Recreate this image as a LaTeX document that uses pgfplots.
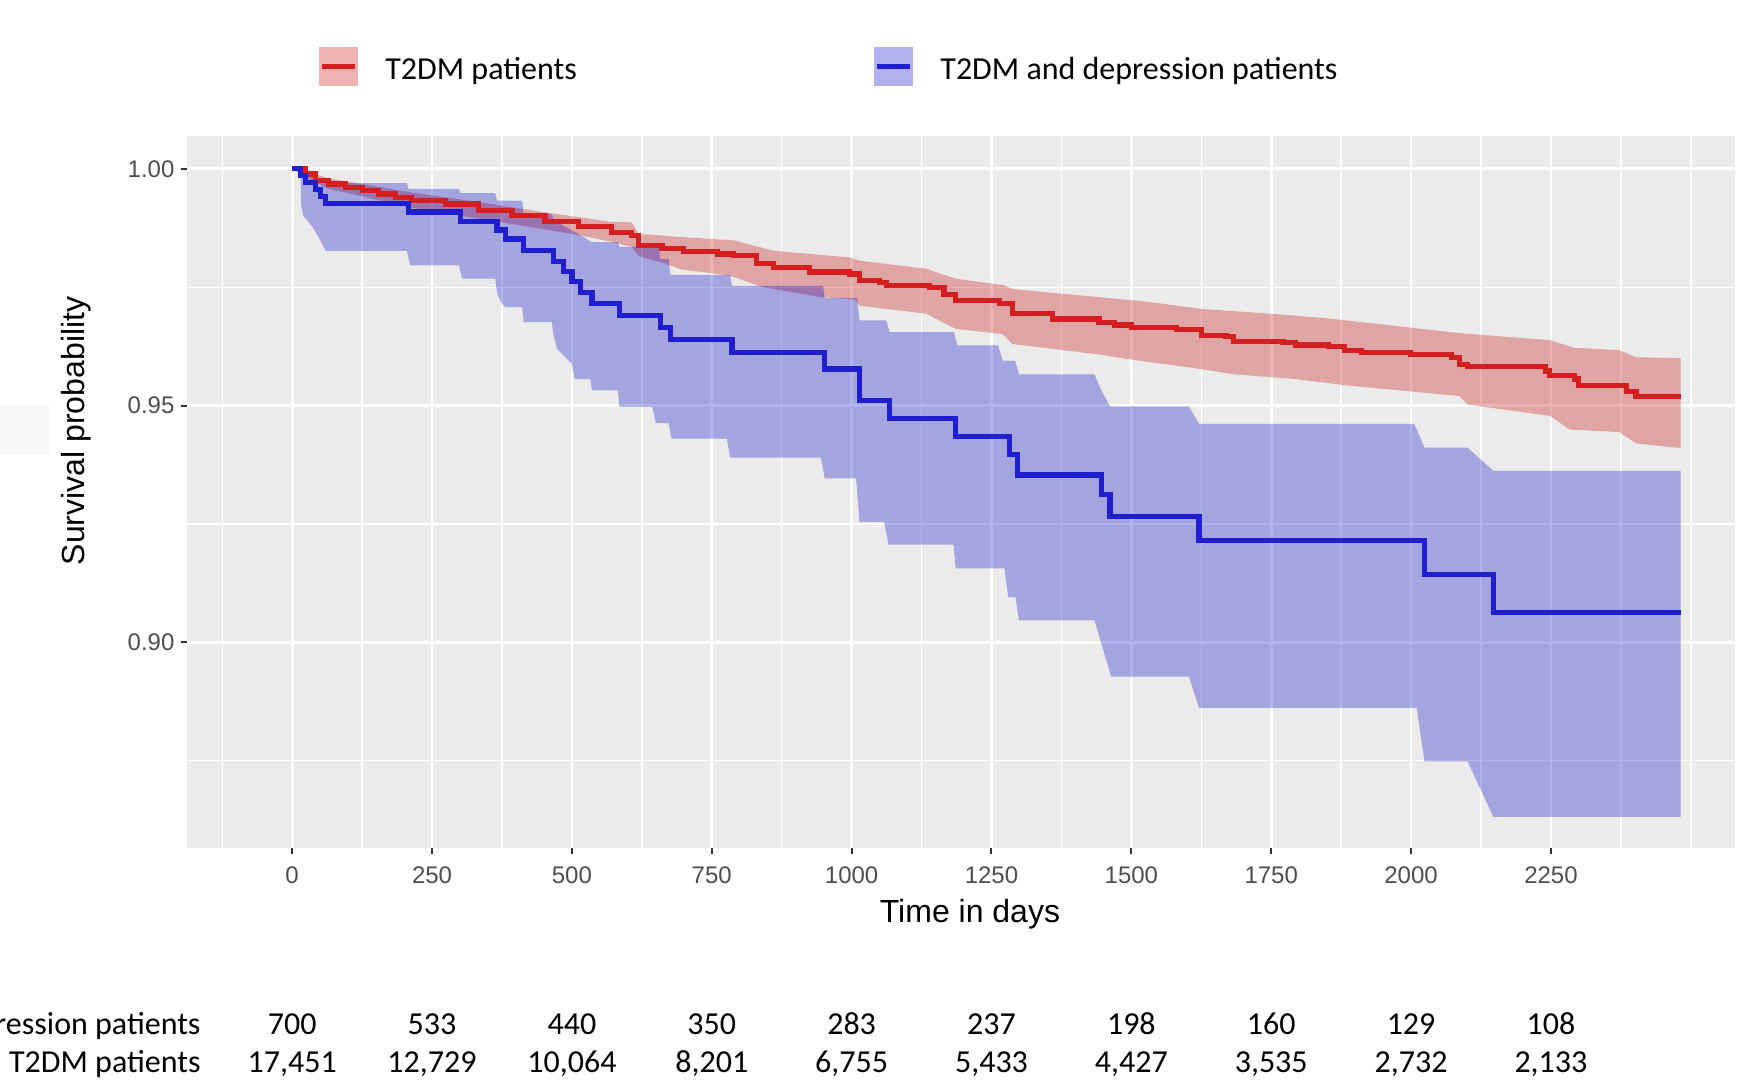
\documentclass[border=0pt]{standalone}
\usepackage{fontspec}
\setmainfont{Liberation Sans}
\newfontfamily\calfont{Carlito}
\usepackage{pgfplots}
\pgfplotsset{compat=1.18}

\definecolor{panelbg}{HTML}{EBEBEB}
\definecolor{kmred}{HTML}{D31F1F}
\definecolor{kmblue}{HTML}{1F1FCF}
\definecolor{bandred}{RGB}{198,0,0}
\definecolor{bandblue}{RGB}{0,0,198}
\definecolor{ticktext}{HTML}{4D4D4D}
\definecolor{tickmark}{HTML}{333333}

\tikzset{risk/.style={anchor=base, inner sep=0pt, font=\calfont\fontsize{16}{19}\selectfont}}

\begin{document}
\begin{tikzpicture}
\clip (-93.5pt,-120pt) rectangle (777.5pt,424pt);
\begin{axis}[
    scale only axis,
    width=774pt, height=356pt,
    at={(0pt,0pt)}, anchor=south west,
    xmin=-188, xmax=2579,
    ymin=0.8565, ymax=1.00695,
    clip=false,
    axis background/.style={fill=panelbg},
    axis line style={draw=none},
    xtick={0,250,...,2250},
    xticklabels={0,250,500,750,1000,1250,1500,1750,2000,2250},
    minor xtick={-125,125,375,625,875,1125,1375,1625,1875,2125,2375,2500},
    ytick={0.90,0.95,1.00},
    yticklabels={0.90,0.95,1.00},
    minor ytick={0.875,0.925,0.975},
    grid=both,
    major grid style={white, line width=1.4pt},
    minor grid style={white, line width=0.7pt},
    tick pos=left,
    tick align=outside,
    major tick length=2.75pt,
    minor tick length=0pt,
    tick style={tickmark, line width=1pt},
    tick label style={font=\fontsize{12}{14}\selectfont, text=ticktext},
    xticklabel style={yshift=-3.3pt},
    xlabel={Time in days},
    ylabel={Survival probability},
    label style={font=\fontsize{16}{19}\selectfont},
    xlabel style={at={(rel axis cs:0.5058,-0.1053)}, anchor=base},
    ylabel style={at={(rel axis cs:-0.0662,0.5857)}, anchor=base},
    legend columns=2,
    legend cell align=left,
    legend style={at={(rel axis cs:0.08527,1.0976)}, anchor=west,
        draw=none, fill=none, inner sep=0pt, outer sep=0pt,
        font=\calfont\fontsize{16}{19}\selectfont,
        nodes={yshift=-1.5pt},
        /tikz/every odd column/.style={column sep=11.7pt},
        /tikz/every even column/.style={column sep=146.6pt}},
]

% faint patch left of the panel
\fill[black!3] (rel axis cs:-0.1208,0.552) rectangle (rel axis cs:-0.0891,0.622);

% confidence band, T2DM patients (upper edge, then lower edge backwards)
\addplot[fill=bandred, fill opacity=0.3, draw=none, forget plot] coordinates {
(0,1.0) (24,0.9995) (65,0.9980) (125,0.9968) (214,0.9950) (333,0.9930) (452,0.9908)
(512,0.9898) (571,0.9888) (607,0.9887) (619,0.9863) (694,0.9856) (789,0.9849) (860,0.9827)
(996,0.9813) (1014,0.9806) (1133,0.9789) (1186,0.9768) (1273,0.9754) (1287,0.9746)
(1442,0.9729) (1531,0.9719) (1625,0.9704) (1749,0.9694) (1852,0.9684) (2086,0.9653)
(2248,0.9638) (2292,0.9622) (2372,0.9617) (2402,0.9602) (2482,0.9600)
(2482,0.9410) (2402,0.9420) (2372,0.9444) (2284,0.9449) (2248,0.9478) (2101,0.9502)
(2086,0.9520) (1881,0.9543) (1793,0.9556) (1683,0.9566) (1625,0.9577) (1500,0.9597)
(1442,0.9608) (1287,0.9630) (1270,0.9651) (1186,0.9662) (1133,0.9694) (1014,0.9711)
(1006,0.9724) (945,0.9729) (842,0.9750) (780,0.9775) (694,0.9788) (664,0.9801) (619,0.9816)
(607,0.9835) (571,0.9846) (512,0.9860) (452,0.9872) (333,0.9895) (214,0.9918) (125,0.9942)
(65,0.9958) (24,0.9983) (0,1.0)
};

% confidence band, T2DM and depression patients
\addplot[fill=bandblue, fill opacity=0.3, draw=none, forget plot] coordinates {
(0,1.0) (15,1.0) (24,0.9990) (42,0.9982) (60,0.9970) (205,0.9970) (208,0.9958) (298,0.9958)
(301,0.9949) (363,0.9949) (366,0.9933) (411,0.9933) (414,0.9905) (464,0.9905) (467,0.9892)
(485,0.9880) (500,0.9870) (515,0.9860) (536,0.9845) (582,0.9845) (585,0.9835) (655,0.9835)
(658,0.9810) (673,0.9810) (676,0.9776) (783,0.9776) (786,0.9753) (949,0.9753) (952,0.9727)
(1010,0.9727) (1014,0.9680) (1062,0.9680) (1068,0.9655) (1183,0.9655) (1189,0.9627)
(1262,0.9627) (1270,0.9595) (1292,0.9595) (1299,0.9566) (1434,0.9566) (1447,0.9530)
(1462,0.9498) (1603,0.9498) (1621,0.9461) (2006,0.9461) (2024,0.9411) (2101,0.9411)
(2147,0.9362) (2482,0.9362)
(2482,0.8631) (2147,0.8631) (2101,0.8748) (2024,0.8748) (2010,0.8861) (1621,0.8861)
(1603,0.8927) (1464,0.8927) (1447,0.8994) (1434,0.9046) (1299,0.9046) (1293,0.9095)
(1280,0.9095) (1273,0.9156) (1186,0.9156) (1182,0.9206) (1066,0.9206) (1058,0.9254)
(1014,0.9254) (1008,0.9346) (952,0.9346) (945,0.9390) (783,0.9390) (777,0.9430) (678,0.9430)
(673,0.9463) (650,0.9463) (644,0.9497) (585,0.9497) (582,0.9532) (536,0.9532) (533,0.9556)
(505,0.9556) (500,0.9588) (490,0.9600) (473,0.9620) (467,0.9651) (464,0.9676) (414,0.9676)
(411,0.9708) (381,0.9708) (373,0.9718) (366,0.9740) (363,0.9768) (304,0.9768) (298,0.9796)
(211,0.9796) (205,0.9827) (60,0.9827) (47,0.9856) (35,0.9880) (20,0.9901) (16,0.9923)
(15,1.0) (0,1.0)
};

% survival curves
\addplot[const plot, kmred, line width=2.6pt,
    legend image code/.code={
        \fill[bandred, fill opacity=0.3, draw=none] (0pt,-9.75pt) rectangle (19.5pt,9.75pt);
        \draw[kmred, line width=2.6pt] (1.5pt,0pt) -- (18pt,0pt);}]
coordinates {
(0,1.0) (24,0.9989) (42,0.9975) (65,0.9968) (95,0.9961) (125,0.9954) (155,0.9947)
(185,0.9939) (214,0.9933) (274,0.9926) (333,0.9912) (393,0.9901) (452,0.9889) (512,0.9878)
(571,0.9866) (607,0.9859) (619,0.9838) (661,0.9831) (700,0.9825) (760,0.9820) (789,0.9817)
(830,0.9800) (860,0.9792) (925,0.9782) (996,0.9778) (1014,0.9764) (1050,0.9760)
(1062,0.9754) (1139,0.9749) (1165,0.9735) (1186,0.9722) (1264,0.9715) (1287,0.9694)
(1359,0.9683) (1442,0.9676) (1470,0.9670) (1500,0.9665) (1581,0.9661) (1625,0.9648)
(1669,0.9645) (1683,0.9635) (1771,0.9633) (1793,0.9628) (1852,0.9624) (1881,0.9617)
(1911,0.9612) (1999,0.9607) (2072,0.9602) (2086,0.9587) (2101,0.9582) (2240,0.9573)
(2248,0.9563) (2292,0.9556) (2299,0.9543) (2372,0.9543) (2385,0.9530) (2402,0.9519)
(2482,0.9519)
};
\addlegendentry{T2DM patients}

\addplot[const plot, kmblue, line width=2.6pt,
    legend image code/.code={
        \fill[bandblue, fill opacity=0.3, draw=none] (0pt,-9.75pt) rectangle (19.5pt,9.75pt);
        \draw[kmblue, line width=2.6pt] (1.5pt,0pt) -- (18pt,0pt);}]
coordinates {
(0,1.0) (15,0.9986) (24,0.9972) (42,0.9957) (51,0.9942) (60,0.9927) (208,0.9909)
(301,0.9889) (366,0.9871) (381,0.9852) (414,0.9828) (467,0.9804) (485,0.9783) (500,0.9762)
(515,0.9739) (536,0.9715) (585,0.9690) (658,0.9665) (676,0.9639) (786,0.9612) (952,0.9577)
(1014,0.9510) (1068,0.9472) (1186,0.9434) (1282,0.9397) (1296,0.9353) (1447,0.9312)
(1462,0.9265) (1621,0.9214) (2024,0.9143) (2147,0.9063) (2482,0.9063)
};
\addlegendentry{T2DM and depression patients}

% number at risk
\node[risk, anchor=base east] at (axis cs:-163,0.81699) {T2DM and depression patients};
\node[risk, anchor=base east] at (axis cs:-163,0.80903) {T2DM patients};
\node[risk] at (axis cs:0,0.81699) {700};
\node[risk] at (axis cs:250,0.81699) {533};
\node[risk] at (axis cs:500,0.81699) {440};
\node[risk] at (axis cs:750,0.81699) {350};
\node[risk] at (axis cs:1000,0.81699) {283};
\node[risk] at (axis cs:1250,0.81699) {237};
\node[risk] at (axis cs:1500,0.81699) {198};
\node[risk] at (axis cs:1750,0.81699) {160};
\node[risk] at (axis cs:2000,0.81699) {129};
\node[risk] at (axis cs:2250,0.81699) {108};
\node[risk] at (axis cs:0,0.80903) {17,451};
\node[risk] at (axis cs:250,0.80903) {12,729};
\node[risk] at (axis cs:500,0.80903) {10,064};
\node[risk] at (axis cs:750,0.80903) {8,201};
\node[risk] at (axis cs:1000,0.80903) {6,755};
\node[risk] at (axis cs:1250,0.80903) {5,433};
\node[risk] at (axis cs:1500,0.80903) {4,427};
\node[risk] at (axis cs:1750,0.80903) {3,535};
\node[risk] at (axis cs:2000,0.80903) {2,732};
\node[risk] at (axis cs:2250,0.80903) {2,133};
\end{axis}
\end{tikzpicture}
\end{document}
